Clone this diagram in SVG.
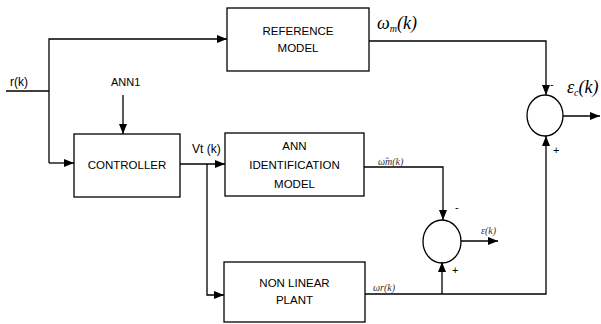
<svg xmlns="http://www.w3.org/2000/svg" width="601" height="324" viewBox="0 0 601 324">
<defs>
<marker id="ah" markerUnits="userSpaceOnUse" markerWidth="10" markerHeight="8" refX="10" refY="4" orient="auto">
<path d="M0 0 L10 4 L0 8 Z" fill="#000"/>
</marker>
<style>
.box{fill:#fff;stroke:#000;stroke-width:1.3}
.ln{fill:none;stroke:#000;stroke-width:1.3}
.t{font-family:"Liberation Sans",Arial,sans-serif;font-size:11.5px;fill:#000;text-anchor:middle}
.l{font-family:"Liberation Sans",Arial,sans-serif;font-size:12px;fill:#000}
.m{font-family:"Liberation Serif","Times New Roman",serif;font-style:italic;font-size:18px;fill:#000}
.f{font-family:"Liberation Serif","Times New Roman",serif;font-style:italic;font-size:10px;fill:#333}
.s{font-family:"Liberation Sans",Arial,sans-serif;font-size:11px;fill:#000}
</style>
</defs>
<rect width="601" height="324" fill="#fff"/>
<g id="connectors">
<path class="ln" d="M6 91 H49"/>
<path class="ln" d="M49 163 V39 H227" marker-end="url(#ah)"/>
<path class="ln" d="M49 163 H74" marker-end="url(#ah)"/>
<path class="ln" d="M123 95 V134" marker-end="url(#ah)"/>
<path class="ln" d="M180 164 H225" marker-end="url(#ah)"/>
<path class="ln" d="M207 164 V295 H224" marker-end="url(#ah)"/>
<path class="ln" d="M364 167 H443 V220" marker-end="url(#ah)"/>
<path class="ln" d="M369 41 H546 V95" marker-end="url(#ah)"/>
<path class="ln" d="M365 294 H546 V136" marker-end="url(#ah)"/>
<path class="ln" d="M442 294 V262" marker-end="url(#ah)"/>
<path class="ln" d="M461 241 H498" marker-end="url(#ah)"/>
<path class="ln" d="M563 116 H600" marker-end="url(#ah)"/>
</g>
<g id="reference-model">
<rect class="box" x="227" y="8" width="142" height="63"/>
<text class="t" x="298" y="35">REFERENCE</text>
<text class="t" x="298" y="52">MODEL</text>
</g>
<g id="controller">
<rect class="box" x="74" y="134" width="106" height="63"/>
<text class="t" x="127" y="169">CONTROLLER</text>
</g>
<g id="ann-identification-model">
<rect class="box" x="225" y="133" width="139" height="63"/>
<text class="t" x="294.5" y="150">ANN</text>
<text class="t" x="294.5" y="169">IDENTIFICATION</text>
<text class="t" x="294.5" y="188">MODEL</text>
</g>
<g id="non-linear-plant">
<rect class="box" x="224" y="262" width="141" height="60"/>
<text class="t" x="294.5" y="287">NON LINEAR</text>
<text class="t" x="294.5" y="304">PLANT</text>
</g>
<g id="sum-control">
<ellipse class="ln" cx="545" cy="115.5" rx="18" ry="20.5"/>
<text class="s" x="550" y="88">-</text>
<text class="s" x="553" y="154">+</text>
</g>
<g id="sum-identification">
<ellipse class="ln" cx="442" cy="241.5" rx="19" ry="21.5"/>
<text class="s" x="455" y="211">-</text>
<text class="s" x="452" y="274">+</text>
</g>
<g id="labels">
<text class="l" x="10" y="86">r(k)</text>
<text class="s" x="111" y="86">ANN1</text>
<text class="l" x="192" y="153">Vt (k)</text>
<text class="m" x="377" y="29">ω<tspan font-size="10" dy="3">m</tspan><tspan dy="-3">(k)</tspan></text>
<text class="m" x="567" y="93">ε<tspan font-size="10" dy="3">c</tspan><tspan dy="-3">(k)</tspan></text>
<text class="f" x="378" y="165">ω̂m(k)</text>
<text class="f" x="373" y="291">ωr(k)</text>
<text class="f" x="481" y="234">ε(k)</text>
</g>
</svg>
